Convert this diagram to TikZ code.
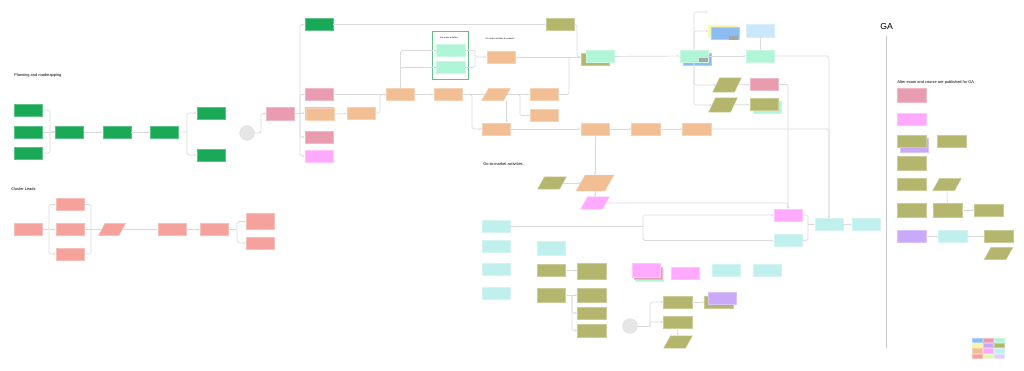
\documentclass[tikz,border=0pt]{standalone}
\usepackage{fontspec}
\setmainfont{Liberation Sans}
\usetikzlibrary{arrows.meta,shapes.geometric,calc}

\definecolor{cgreen}{HTML}{1AAA57}
\definecolor{csalmon}{HTML}{F5A29C}
\definecolor{crose}{HTML}{E99BB0}
\definecolor{corange}{HTML}{F2BE94}
\definecolor{cmint}{HTML}{AFF5D6}
\definecolor{colive}{HTML}{B3B66C}
\definecolor{cmagenta}{HTML}{FFA9FF}
\definecolor{ccyan}{HTML}{C0F0EE}
\definecolor{cblue}{HTML}{8DBCF2}
\definecolor{clblue}{HTML}{CBE7FB}
\definecolor{cpurple}{HTML}{C9AAF8}
\definecolor{cyellow}{HTML}{F7F5A6}
\definecolor{cyg}{HTML}{E3F7B5}
\definecolor{clav}{HTML}{DCD3FB}
\definecolor{cline}{HTML}{DADADA}
\definecolor{ccircle}{HTML}{E6E6E6}

\begin{document}
\begin{tikzpicture}[
    x=0.025cm, y=-0.025cm,
    nd/.style={rectangle, fill=#1, draw=#1!70!white, line width=0.3pt, minimum width=0.71cm, minimum height=0.31cm, inner sep=0pt},
    para/.style={trapezium, trapezium left angle=65, trapezium right angle=115, trapezium stretches=true, fill=#1, draw=#1!70!white, line width=0.3pt, minimum width=0.72cm, minimum height=0.31cm, inner sep=0.5pt, font=\fontsize{1}{1}\selectfont},
    tag/.style={rectangle, fill=gray!70, minimum width=0.22cm, minimum height=0.1cm, inner sep=0pt},
    blob/.style={circle, fill=ccircle, draw=gray!25, line width=0.3pt, minimum size=0.37cm, inner sep=0pt},
    conn/.style={draw=cline, line width=0.5pt, rounded corners=1.2pt, -{Stealth[length=1.6pt, width=1.5pt]}},
    wire/.style={draw=cline, line width=0.5pt, rounded corners=1.2pt},
    heading/.style={anchor=west, inner sep=0pt, font=\fontsize{2.8}{3.4}\selectfont},
    small/.style={inner sep=0pt, font=\fontsize{1.5}{1.8}\selectfont}
  ]
    \useasboundingbox (0,0) rectangle (1024,370);

    % Planning and roadmapping
    \node[heading] (hplan) at (14,75.5) {Planning and roadmapping};
    \node[nd=cgreen] (g1) at (28.5,110) {};
    \node[nd=cgreen] (g2) at (28.5,132) {};
    \node[nd=cgreen] (g3) at (28.5,153) {};
    \node[nd=cgreen] (g4) at (69.5,132) {};
    \node[nd=cgreen] (g5) at (117,132) {};
    \node[nd=cgreen] (g6) at (164,132) {};
    \node[nd=cgreen] (g7) at (211,113) {};
    \node[nd=cgreen] (g8) at (211,155) {};
    \node[blob] (circ1) at (247,133) {};
    \coordinate (jplan1) at (50,132);
    \coordinate (jplan2) at (187,132);
    \coordinate (jplan3) at (261,113.5);

    % Cluster leads
    \node[heading] (hclust) at (11,189.5) {Cluster Leads};
    \node[nd=csalmon] (c1) at (28.5,229.5) {};
    \node[nd=csalmon] (c2) at (70,204.5) {};
    \node[nd=csalmon] (c3) at (70,229.5) {};
    \node[nd=csalmon] (c4) at (70,254) {};
    \node[para=csalmon, minimum width=0.68cm] (p1) at (112,229.5) {};
    \node[nd=csalmon] (c5) at (172,229.5) {};
    \node[nd=csalmon] (c6) at (214,229.5) {};
    \node[nd=csalmon, minimum height=0.41cm] (c7) at (260,221.5) {};
    \node[nd=csalmon] (c8) at (260,243) {};
    \coordinate (jclust1) at (49,229.5);
    \coordinate (jclust2) at (91,229.5);
    \coordinate (jclust3) at (237,229.5);

    % Middle block - planning outputs
    \node[nd=crose, minimum height=0.33cm] (pk1) at (280.5,113.5) {};
    \node[nd=cgreen] (gtop) at (319,24.5) {};
    \node[nd=crose] (pk2) at (319,94.5) {};
    \node[nd=crose] (pk1b) at (319,113) {};
    \node[nd=corange] (o1) at (320,114.5) {};
    \node[nd=crose] (pk3) at (319,137) {};
    \node[nd=cmagenta] (m1) at (319,156) {};
    \node[nd=corange] (o2) at (361,113) {};
    \node[nd=corange] (o3) at (400.5,94.5) {};
    \coordinate (jmid1) at (300,113.5);
    \coordinate (jmid2) at (380,94.5);

    % Pre-exam group
    \draw[draw=cgreen!70!white, line width=0.6pt] (432,31) rectangle (468,79);
    \node[small] (hpre) at (449,37.5) {Pre-exam activities};
    \node[small] (hren) at (500,38.5) {Pre-exam activities \& renewals};
    \node[nd=cmint] (mt1) at (450.5,50.5) {};
    \node[nd=cmint] (mt2) at (450.5,67.5) {};
    \node[nd=corange] (o4) at (501,57) {};
    \coordinate (jpre1) at (475,57);

    % Orange row
    \node[nd=corange] (o5) at (448,94.5) {};
    \node[para=corange] (p2) at (496,94.5) {};
    \node[nd=corange] (o7) at (544,94.5) {};
    \node[nd=corange] (o8) at (544,115.5) {};
    \node[nd=corange] (o9) at (496,129) {};
    \node[nd=corange] (o10) at (595,129) {};
    \node[nd=corange] (o11) at (645.5,129) {};
    \node[nd=corange] (o12) at (696.5,129) {};
    \coordinate (jrow1) at (520,115.5);
    \coordinate (jrow2) at (472,129);

    % Top right block
    \node[nd=colive] (ol1) at (560,24.5) {};
    \node[nd=colive] (mt3b) at (595,59.5) {};
    \node[nd=cmint] (mt3) at (600,56.5) {};
    \node[nd=cblue] (mt4b) at (697,59) {};
    \node[nd=cmint] (mt4) at (694,56) {};
    \node[tag] (tag1) at (703.5,60) {};
    \node[nd=cmint] (mt5) at (760,56) {};
    \node[nd=cyellow] (bl1b) at (722.5,31) {};
    \node[nd=cblue] (bl1) at (725,33) {};
    \node[tag] (tag2) at (733.5,37.5) {};
    \node[nd=clblue, minimum height=0.33cm] (lb1) at (760,30.5) {};
    \node[para=colive, minimum height=0.36cm] (ol12) at (727,85) {};
    \node[nd=crose] (pk4) at (764,84.5) {};
    \node[para=colive, minimum height=0.36cm] (ol13) at (723,105) {};
    \node[nd=cmint] (ol14b) at (767,107) {};
    \node[nd=colive] (ol14) at (764,104.5) {};
    \coordinate (jtop1) at (577,57);
    \coordinate (jtop2) at (569,57);
    \coordinate (ftop) at (708,12);

    % Go-to-market activities
    \node[heading] (hgtm) at (483,164.5) {Go-to-market activities};
    \node[para=colive] (ol2) at (552,183) {};
    \node[para=corange, minimum width=0.95cm, minimum height=0.4cm] (o13) at (595,183) {};
    \node[para=cmagenta] (m2) at (595,203) {};
    \node[nd=cmagenta] (m3) at (788,215) {};
    \node[nd=ccyan] (cy3) at (788,240.5) {};
    \node[nd=ccyan] (cy1) at (829,224.5) {};
    \node[nd=ccyan] (cy2) at (866,224.5) {};
    \node[nd=ccyan] (q1) at (496,226.5) {};
    \node[nd=ccyan] (q2) at (496,246.5) {};
    \node[nd=ccyan] (q3) at (496,269.5) {};
    \node[nd=ccyan] (q4) at (496,293) {};
    \node[nd=ccyan, minimum height=0.36cm] (q5) at (551,248) {};
    \node[nd=colive] (ol3) at (551,270) {};
    \node[nd=colive, minimum height=0.41cm] (ol4) at (591.5,271) {};
    \node[nd=colive, minimum height=0.36cm] (ol5) at (551,295) {};
    \node[nd=colive, minimum height=0.36cm] (ol6) at (591.5,295) {};
    \node[nd=colive] (ol7) at (591.5,313) {};
    \node[nd=colive] (ol8) at (591.5,330.5) {};
    \node[nd=cmint] (m4c) at (649,275) {};
    \node[nd=crose] (m4b) at (648,273.5) {};
    \node[nd=cmagenta, minimum height=0.36cm] (m4) at (646,270) {};
    \node[nd=cmagenta] (m5) at (685,273.5) {};
    \node[nd=ccyan] (cy4) at (726,270.5) {};
    \node[nd=ccyan] (cy5) at (767,270.5) {};
    \node[blob] (circ2) at (630,326) {};
    \node[nd=colive] (ol9) at (677.5,302) {};
    \node[nd=colive] (ol10) at (677.5,322) {};
    \node[para=colive] (ol11) at (678,342) {};
    \node[nd=colive] (pu1b) at (718.5,302) {};
    \node[nd=cpurple] (pu1) at (722,298.5) {};
    \coordinate (jgtm1) at (643,226.5);
    \coordinate (jgtm2) at (808,224.5);
    \coordinate (jgtm3) at (572,295);
    \coordinate (jgtm4) at (650,326);

    % GA
    \node[anchor=west, inner sep=0pt, font=\fontsize{6.2}{7}\selectfont] (hga) at (880,26) {GA};
    \draw[draw=gray!45, line width=0.6pt] (886,36) -- (886,348);
    \node[heading] (hafter) at (897,82) {After exam and course are published for GA};
    \node[nd=crose, minimum height=0.36cm] (ga1) at (911.5,95) {};
    \node[nd=cmagenta] (ga2) at (911.5,119.5) {};
    \node[nd=cpurple, minimum height=0.36cm] (ga3b) at (914,145) {};
    \node[nd=colive] (ga3) at (911.5,141.5) {};
    \node[nd=colive] (ga4) at (951.5,141.5) {};
    \node[nd=colive, minimum height=0.36cm] (ga5) at (911.5,163) {};
    \node[nd=colive] (ga6) at (911.5,184.5) {};
    \node[para=colive] (ga7) at (947,184.5) {};
    \node[nd=colive, minimum height=0.36cm] (ga8) at (911.5,210) {};
    \node[nd=colive, minimum height=0.36cm] (ga9) at (947.5,210) {};
    \node[nd=colive] (ga10) at (988.5,210) {};
    \node[nd=cpurple] (ga11) at (911.5,236.5) {};
    \node[nd=ccyan] (ga12) at (952.5,236.5) {};
    \node[nd=colive] (ga13) at (998.5,236.5) {};
    \node[para=colive] (ga14) at (998.5,253.5) {};

    % Legend
    \foreach \clr [count=\i from 0] in {cblue,crose,cmint,cyellow,cpurple,colive,corange,cmagenta,ccyan,csalmon,cyg,clav} {
      \pgfmathtruncatemacro{\col}{mod(\i,3)}
      \pgfmathtruncatemacro{\row}{div(\i,3)}
      \node[nd=\clr, minimum width=0.25cm, minimum height=0.11cm] (leg\i) at (977+11*\col, 340+5.4*\row) {};
    }

    % Arrows - planning
    \draw[conn] (g1.east) -| (jplan1) -- (g4.west);
    \draw[conn] (g3.east) -| (jplan1) -- (g4.west);
    \draw[conn] (g2.east) -- (g4.west);
    \draw[conn] (g4) -- (g5);
    \draw[conn] (g5) -- (g6);
    \draw[conn] (g6.east) -- (jplan2) |- (g7.west);
    \draw[conn] (jplan2) |- (g8.west);
    \draw[conn] (circ1.east) -| (jplan3) -- (pk1.west);

    % Arrows - cluster leads
    \draw[conn] (c1.east) -- (jclust1) |- (c2.west);
    \draw[conn] (jclust1) -- (c3.west);
    \draw[conn] (jclust1) |- (c4.west);
    \draw[wire] (c2.east) -| (jclust2);
    \draw[wire] (c4.east) -| (jclust2);
    \draw[conn] (c3.east) -- (p1.west);
    \draw[conn] (p1) -- (c5);
    \draw[conn] (c5) -- (c6);
    \draw[conn] (c6.east) -- (jclust3) |- (c7.west);
    \draw[conn] (jclust3) |- (c8.west);

    % Arrows - middle block
    \draw[wire] (pk1.east) -- (jmid1);
    \draw[conn] (jmid1) |- (gtop.west);
    \draw[conn] (jmid1) |- (pk2.west);
    \draw[conn] (jmid1) -- (pk1b.west);
    \draw[conn] (jmid1) |- (pk3.west);
    \draw[conn] (jmid1) |- (m1.west);
    \draw[conn] (gtop) -- (ol1);
    \draw[conn] (pk2) -- (o3);
    \draw[conn] (o1) -- (o2);
    \draw[conn] (o2.east) -| (jmid2) -- (o3.west);
    \draw[conn] (o3.north) |- (mt1.west);
    \draw[conn] (o3.north) |- (mt2.west);
    \draw[conn] (mt1.east) -| (jpre1) -- (o4.west);
    \draw[wire] (mt2.east) -| (jpre1);
    \draw[conn] (o4.east) -- (mt3b.west |- o4.east);

    % Arrows - orange row
    \draw[conn] (o3) -- (o5);
    \draw[conn] (o5) -- (p2);
    \draw[conn] (p2) -- (o7);
    \draw[conn] (p2.east) -| (jrow1) -- (o8.west);
    \draw[conn] (o5.east) -| (jrow2) -- (o9.west);
    \draw[conn] ([xshift=0.27cm]p2.south) -- ([xshift=0.27cm]o9.north);
    \draw[conn] (o9) -- (o10);
    \draw[conn] (o10) -- (o11);
    \draw[conn] (o11) -- (o12);
    \draw[conn] (o12.east) -| (cy1.north);

    % Arrows - top right
    \draw[conn] (ol1.east) -| (jtop1) -- (mt3b.west |- jtop1);
    \draw[wire] (o7.east) -| (jtop2);
    \draw[conn] (mt3) -- (mt4);
    \draw[conn] (mt4) -- (mt5);
    \draw[conn] (mt5.east) -| (cy1.north);
    \draw[wire] (lb1) -- (mt5);
    \draw[conn] (mt4.north) |- (ftop);
    \draw[conn] (mt4.north) |- (bl1b.west);
    \draw[conn] (mt4.south) |- (ol12.west);
    \draw[conn] (mt4.south) |- (ol13.west);
    \draw[conn] (ol12) -- (pk4);
    \draw[conn] (ol13) -- (ol14);

    % Arrows - go-to-market
    \draw[conn] (o10) -- (o13);
    \draw[conn] (ol2) -- (o13);
    \draw[conn] (o13) -- (m2);
    \draw[conn] (m2.east) -| (m3.north);
    \draw[conn] (pk4.east) -| (m3.north);
    \draw[wire] (q1.east) -- (jgtm1);
    \draw[conn] (jgtm1) |- (m3.west);
    \draw[conn] (jgtm1) |- (cy3.west);
    \draw[wire] (m3.east) -| (jgtm2);
    \draw[wire] (cy3.east) -| (jgtm2);
    \draw[conn] (jgtm2) -- (cy1.west);
    \draw[conn] (cy1) -- (cy2);
    \draw[conn] (ol3) -- (ol4);
    \draw[conn] (ol5) -- (ol6);
    \draw[conn] (jgtm3) |- (ol7.west);
    \draw[conn] (jgtm3) |- (ol8.west);
    \draw[wire] (circ2.east) -- (jgtm4);
    \draw[conn] (jgtm4) |- (ol9.west);
    \draw[conn] (jgtm4) |- (ol10.west);
    \draw[conn] (ol10) -- (ol11);
    \draw[conn] (ol9) -- (pu1b);

    % Arrows - GA
    \draw[wire] (ga9) -- (ga7);
    \draw[conn] (ga9) -- (ga10);
    \draw[conn] (ga11) -- (ga12);
    \draw[conn] (ga12) -- (ga13);

  \end{tikzpicture}
\end{document}
